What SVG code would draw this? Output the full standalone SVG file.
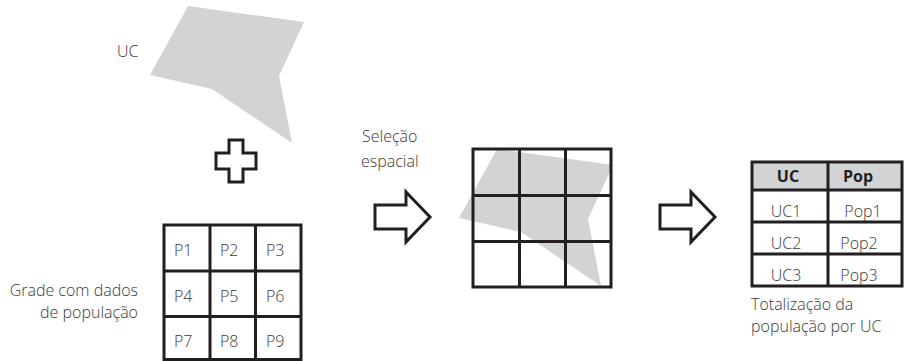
<svg xmlns="http://www.w3.org/2000/svg" width="905" height="361" viewBox="0 0 905 361">
<style>
.t{font-family:"Open Sans","Liberation Sans",sans-serif;font-weight:300;font-size:16px;fill:#3a3a3a}
.c{text-anchor:middle}
.e{text-anchor:end}
.h{font-family:"Open Sans","Liberation Sans",sans-serif;font-weight:700;font-size:16px;fill:#231f20;text-anchor:middle}
.uc{fill:#d1d3d4;stroke:none}
.ln{stroke:#231f20;stroke-width:3;fill:none;stroke-linecap:square}
.blk{fill:#ffffff;stroke:#231f20;stroke-width:3;stroke-linejoin:miter}
</style>
<rect width="905" height="361" fill="#ffffff"/>

<g id="uc-shape">
  <polygon class="uc" points="188,6 304,22 279,76 292,143 212,89 150,75"/>
  <text class="t" x="117" y="57">UC</text>
</g>

<g id="plus">
  <polygon class="blk" points="229,140 243,140 243,153 256,153 256,169 243,169 243,182 229,182 229,169 216,169 216,153 229,153"/>
</g>

<g id="grid-pop">
  <text class="t e" x="138" y="296">Grade com dados</text>
  <text class="t e" x="138" y="318">de população</text>
  <path class="ln" d="M164,225H301M164,271H301M164,316.5H301M164,359.5H301M164,225V361M210,225V361M255.5,225V361M301,225V361"/>
  <text class="t" x="174" y="256">P1</text>
  <text class="t" x="220" y="256">P2</text>
  <text class="t" x="266" y="256">P3</text>
  <text class="t" x="174" y="302">P4</text>
  <text class="t" x="220" y="302">P5</text>
  <text class="t" x="266" y="302">P6</text>
  <text class="t" x="174" y="347">P7</text>
  <text class="t" x="220" y="347">P8</text>
  <text class="t" x="266" y="347">P9</text>
</g>

<g id="selection-label">
  <text class="t" x="362" y="142">Seleção</text>
  <text class="t" x="361" y="167">espacial</text>
</g>

<g id="overlay">
  <polygon class="uc" points="497,149 613,165 588,219 601,286 521,232 459,218"/>
  <path class="ln" d="M473,149H611M473,195.5H611M473,241.5H611M473,287H611M473,149V287M519.5,149V287M565.5,149V287M611,149V287"/>
</g>

<g id="result-table">
  <rect x="752" y="162" width="150" height="28" fill="#d1d3d4"/>
  <path class="ln" d="M752,162H902M752,190H902M752,222H902M752,254H902M752,286H902M752,162V286M828,162V286M902,162V286"/>
  <text class="h" x="788" y="182">UC</text>
  <text class="h" x="858" y="182">Pop</text>
  <text class="t c" x="786" y="217">UC1</text>
  <text class="t c" x="863" y="217">Pop1</text>
  <text class="t c" x="786" y="249">UC2</text>
  <text class="t c" x="859" y="249">Pop2</text>
  <text class="t c" x="786" y="281">UC3</text>
  <text class="t c" x="859" y="281">Pop3</text>
  <text class="t" x="751" y="310">Totalização da</text>
  <text class="t" x="751" y="332">população por UC</text>
</g>

<g id="connectors">
  <polygon class="blk" points="375,205 406,205 406,192 430,217 406,242 406,229 375,229"/>
  <polygon class="blk" points="660,205 691,205 691,192 715,217 691,242 691,229 660,229"/>
</g>
</svg>
